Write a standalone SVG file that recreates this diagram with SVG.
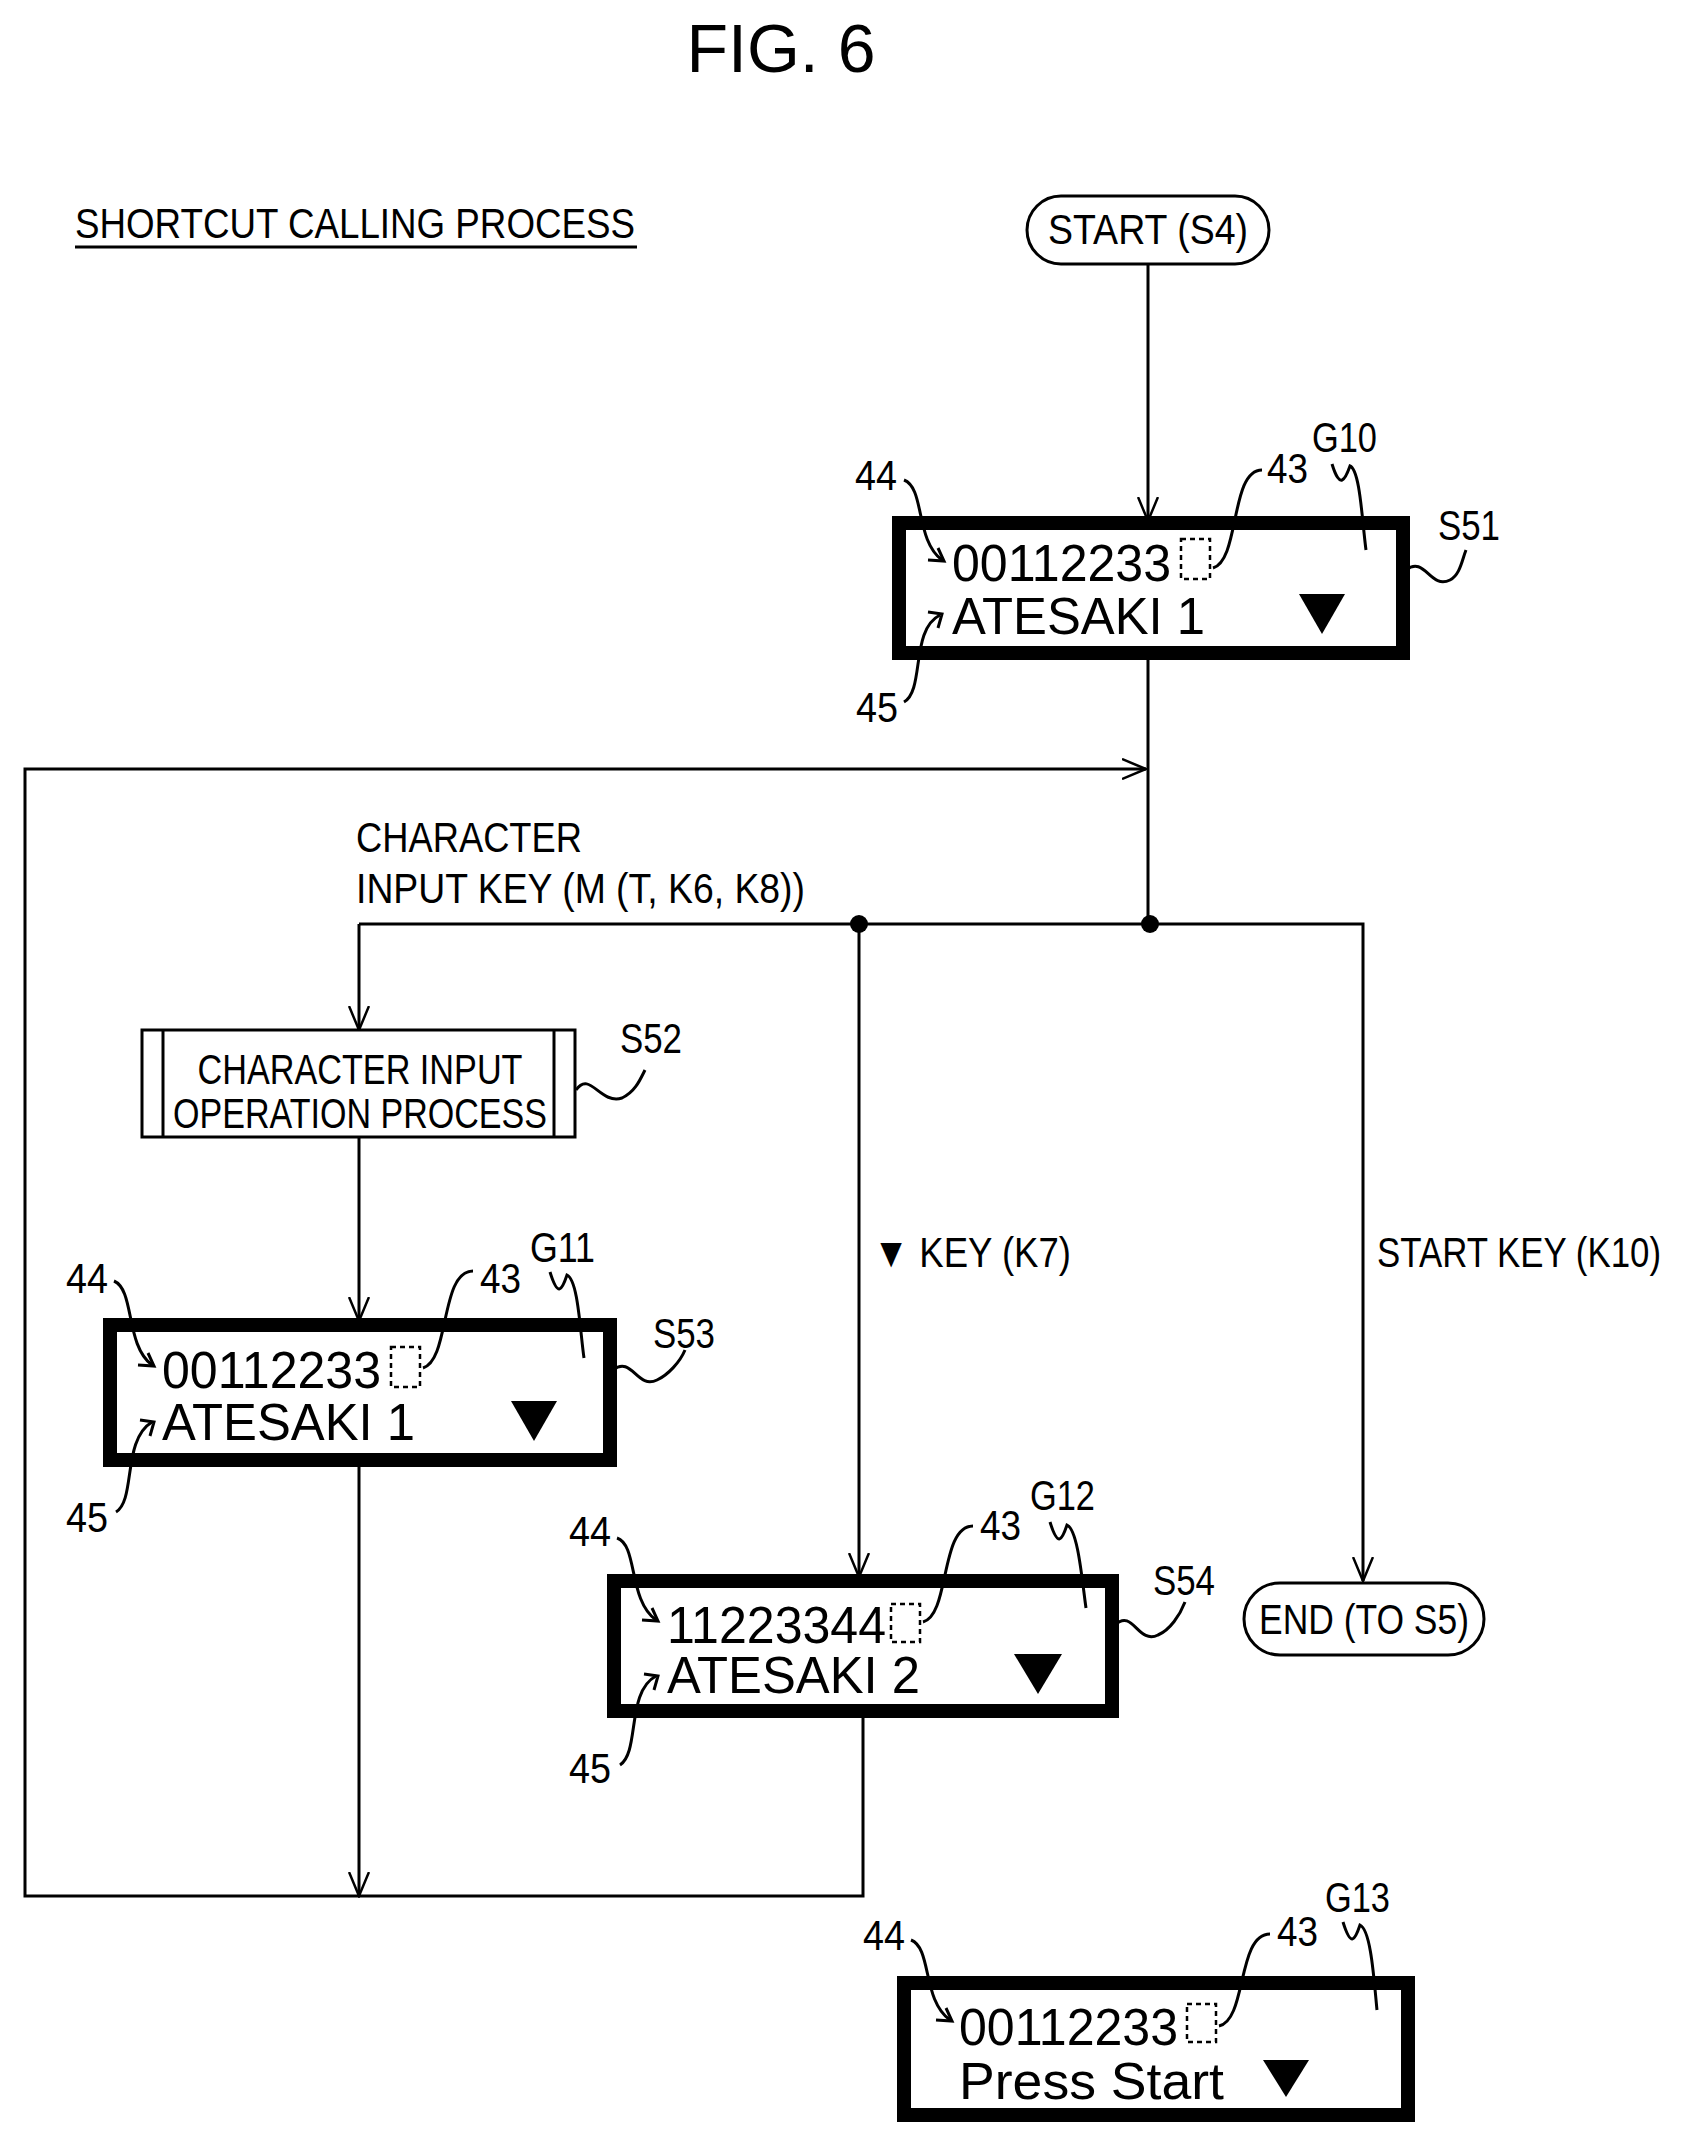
<svg xmlns="http://www.w3.org/2000/svg" width="1681" height="2140" viewBox="0 0 1681 2140">
<style>
text{font-family:"Liberation Sans",Arial,sans-serif;fill:#000}
.lbl{font-size:42px}
.big{font-size:52px}
.ln{fill:none;stroke:#000;stroke-width:3}
.scr{fill:#fff;stroke:#000;stroke-width:14}
.cur{fill:none;stroke:#000;stroke-width:2.5;stroke-dasharray:5,4}
.term{fill:#fff;stroke:#000;stroke-width:3}
</style>
<defs>
<marker id="a" markerWidth="26" markerHeight="22" refX="24" refY="11" orient="auto" markerUnits="userSpaceOnUse" viewBox="0 0 26 22">
<path d="M0,1 L24,11 L0,21" fill="none" stroke="#000" stroke-width="2.5"/>
</marker>
</defs>
<rect width="1681" height="2140" fill="#fff"/>
<text x="781" y="72" font-size="68" text-anchor="middle">FIG. 6</text>
<text x="75" y="238" font-size="42" textLength="560" lengthAdjust="spacingAndGlyphs">SHORTCUT CALLING PROCESS</text>
<line x1="75" y1="247" x2="637" y2="247" stroke="#000" stroke-width="3"/>

<g id="connectors">
<line class="ln" x1="1148" y1="264" x2="1148" y2="521" marker-end="url(#a)"/>
<line class="ln" x1="1148" y1="653" x2="1148" y2="924"/>
<path class="ln" d="M863,1711 V1896 H25 V769 H1146" marker-end="url(#a)"/>
<path class="ln" d="M359,924 H1363 V1581" marker-end="url(#a)"/>
<line class="ln" x1="359" y1="924" x2="359" y2="1030" marker-end="url(#a)"/>
<line class="ln" x1="859" y1="924" x2="859" y2="1577" marker-end="url(#a)"/>
<line class="ln" x1="359" y1="1137" x2="359" y2="1321" marker-end="url(#a)"/>
<line class="ln" x1="359" y1="1460" x2="359" y2="1896" marker-end="url(#a)"/>
<circle cx="859" cy="924" r="9"/>
<circle cx="1150" cy="924" r="9"/>
<text class="lbl" x="356" y="852" textLength="226" lengthAdjust="spacingAndGlyphs">CHARACTER</text>
<text class="lbl" x="356" y="903" textLength="449" lengthAdjust="spacingAndGlyphs">INPUT KEY (M (T, K6, K8))</text>
<text class="lbl" x="873" y="1267" textLength="198" lengthAdjust="spacingAndGlyphs">▼ KEY (K7)</text>
<text class="lbl" x="1377" y="1267" textLength="284" lengthAdjust="spacingAndGlyphs">START KEY (K10)</text>
</g>

<g id="start">
<rect class="term" x="1027" y="196" width="242" height="68" rx="34"/>
<text class="lbl" x="1148" y="244" text-anchor="middle" textLength="200" lengthAdjust="spacingAndGlyphs">START (S4)</text>
</g>

<g id="S51">
<rect class="scr" x="899" y="523" width="504" height="130"/>
<text class="big" x="952" y="581" textLength="219" lengthAdjust="spacingAndGlyphs">00112233</text>
<text class="big" x="952" y="634" textLength="253" lengthAdjust="spacingAndGlyphs">ATESAKI 1</text>
<rect class="cur" x="1181" y="539" width="29" height="40"/>
<path d="M1299,594 H1345 L1322,634 Z"/>
<text class="lbl" x="855" y="490" textLength="42" lengthAdjust="spacingAndGlyphs">44</text>
<path class="ln" d="M904,480 C925,488 915,540 942,560"/><path class="ln" d="M928,560 L944,561 L938,548"/>
<text class="lbl" x="856" y="722" textLength="42" lengthAdjust="spacingAndGlyphs">45</text>
<path class="ln" d="M904,702 C925,690 910,630 940,615"/><path class="ln" d="M928,612 L942,614 L938,628"/>
<text class="lbl" x="1267" y="483" textLength="41" lengthAdjust="spacingAndGlyphs">43</text>
<path class="ln" d="M1262,470 C1230,470 1240,560 1213,568"/>
<text class="lbl" x="1312" y="452" textLength="65" lengthAdjust="spacingAndGlyphs">G10</text>
<path class="ln" d="M1332,464 C1340,490 1345,480 1350,466 C1360,470 1362,520 1366,550"/>
<text class="lbl" x="1438" y="540" textLength="62" lengthAdjust="spacingAndGlyphs">S51</text>
<path class="ln" d="M1406,570 C1425,555 1430,590 1450,580 C1460,575 1462,560 1466,550"/>
</g>

<g id="S52">
<rect x="142" y="1030" width="433" height="107" fill="#fff" stroke="#000" stroke-width="3"/>
<line class="ln" x1="163" y1="1030" x2="163" y2="1137"/>
<line class="ln" x1="554" y1="1030" x2="554" y2="1137"/>
<text class="lbl" x="360" y="1084" text-anchor="middle" textLength="325" lengthAdjust="spacingAndGlyphs">CHARACTER INPUT</text>
<text class="lbl" x="360" y="1128" text-anchor="middle" textLength="374" lengthAdjust="spacingAndGlyphs">OPERATION PROCESS</text>
<text class="lbl" x="620" y="1053" textLength="62" lengthAdjust="spacingAndGlyphs">S52</text>
<path class="ln" d="M576,1090 C590,1070 600,1105 622,1098 C635,1092 640,1080 645,1070"/>
</g>

<g id="S53">
<rect class="scr" x="110" y="1325" width="500" height="135"/>
<text class="big" x="162" y="1388" textLength="219" lengthAdjust="spacingAndGlyphs">00112233</text>
<text class="big" x="162" y="1440" textLength="253" lengthAdjust="spacingAndGlyphs">ATESAKI 1</text>
<rect class="cur" x="391" y="1347" width="29" height="40"/>
<path d="M511,1401 H557 L534,1441 Z"/>
<text class="lbl" x="66" y="1293" textLength="42" lengthAdjust="spacingAndGlyphs">44</text>
<path class="ln" d="M114,1281 C135,1290 125,1345 152,1365"/><path class="ln" d="M138,1365 L154,1366 L148,1353"/>
<text class="lbl" x="66" y="1532" textLength="42" lengthAdjust="spacingAndGlyphs">45</text>
<path class="ln" d="M116,1512 C136,1500 122,1440 152,1422"/><path class="ln" d="M140,1420 L154,1422 L150,1436"/>
<text class="lbl" x="480" y="1293" textLength="41" lengthAdjust="spacingAndGlyphs">43</text>
<path class="ln" d="M473,1271 C440,1271 450,1360 423,1368"/>
<text class="lbl" x="530" y="1262" textLength="65" lengthAdjust="spacingAndGlyphs">G11</text>
<path class="ln" d="M550,1272 C558,1298 562,1290 567,1275 C578,1280 580,1330 584,1358"/>
<text class="lbl" x="653" y="1348" textLength="62" lengthAdjust="spacingAndGlyphs">S53</text>
<path class="ln" d="M613,1370 C632,1355 637,1390 657,1380 C668,1375 680,1362 685,1350"/>
</g>

<g id="S54">
<rect class="scr" x="614" y="1581" width="498" height="130"/>
<text class="big" x="667" y="1643" textLength="219" lengthAdjust="spacingAndGlyphs">11223344</text>
<text class="big" x="667" y="1693" textLength="253" lengthAdjust="spacingAndGlyphs">ATESAKI 2</text>
<rect class="cur" x="891" y="1604" width="29" height="38"/>
<path d="M1014,1654 H1062 L1038,1694 Z"/>
<text class="lbl" x="569" y="1546" textLength="42" lengthAdjust="spacingAndGlyphs">44</text>
<path class="ln" d="M617,1538 C638,1545 628,1600 656,1620"/><path class="ln" d="M642,1620 L658,1621 L652,1608"/>
<text class="lbl" x="569" y="1783" textLength="42" lengthAdjust="spacingAndGlyphs">45</text>
<path class="ln" d="M620,1765 C640,1752 626,1692 656,1676"/><path class="ln" d="M644,1674 L658,1676 L654,1690"/>
<text class="lbl" x="980" y="1540" textLength="41" lengthAdjust="spacingAndGlyphs">43</text>
<path class="ln" d="M973,1526 C940,1526 950,1615 923,1622"/>
<text class="lbl" x="1030" y="1510" textLength="65" lengthAdjust="spacingAndGlyphs">G12</text>
<path class="ln" d="M1050,1522 C1058,1548 1062,1540 1067,1525 C1078,1530 1082,1580 1086,1608"/>
<text class="lbl" x="1153" y="1595" textLength="62" lengthAdjust="spacingAndGlyphs">S54</text>
<path class="ln" d="M1115,1625 C1133,1608 1138,1645 1158,1635 C1170,1630 1180,1615 1185,1602"/>
</g>

<g id="end">
<rect class="term" x="1244" y="1583" width="240" height="72" rx="36"/>
<text class="lbl" x="1364" y="1634" text-anchor="middle" textLength="210" lengthAdjust="spacingAndGlyphs">END (TO S5)</text>
</g>

<g id="G13">
<rect class="scr" x="904" y="1983" width="504" height="132"/>
<text class="big" x="959" y="2045" textLength="219" lengthAdjust="spacingAndGlyphs">00112233</text>
<text class="big" x="959" y="2099" textLength="265" lengthAdjust="spacingAndGlyphs">Press Start</text>
<rect class="cur" x="1187" y="2004" width="29" height="38"/>
<path d="M1263,2060 H1309 L1286,2097 Z"/>
<text class="lbl" x="863" y="1950" textLength="42" lengthAdjust="spacingAndGlyphs">44</text>
<path class="ln" d="M911,1940 C932,1948 922,2000 950,2020"/><path class="ln" d="M936,2020 L952,2021 L946,2008"/>
<text class="lbl" x="1277" y="1946" textLength="41" lengthAdjust="spacingAndGlyphs">43</text>
<path class="ln" d="M1270,1934 C1237,1934 1247,2020 1219,2026"/>
<text class="lbl" x="1325" y="1912" textLength="65" lengthAdjust="spacingAndGlyphs">G13</text>
<path class="ln" d="M1343,1922 C1351,1948 1355,1940 1360,1925 C1371,1930 1374,1980 1377,2010"/>
</g>
</svg>
